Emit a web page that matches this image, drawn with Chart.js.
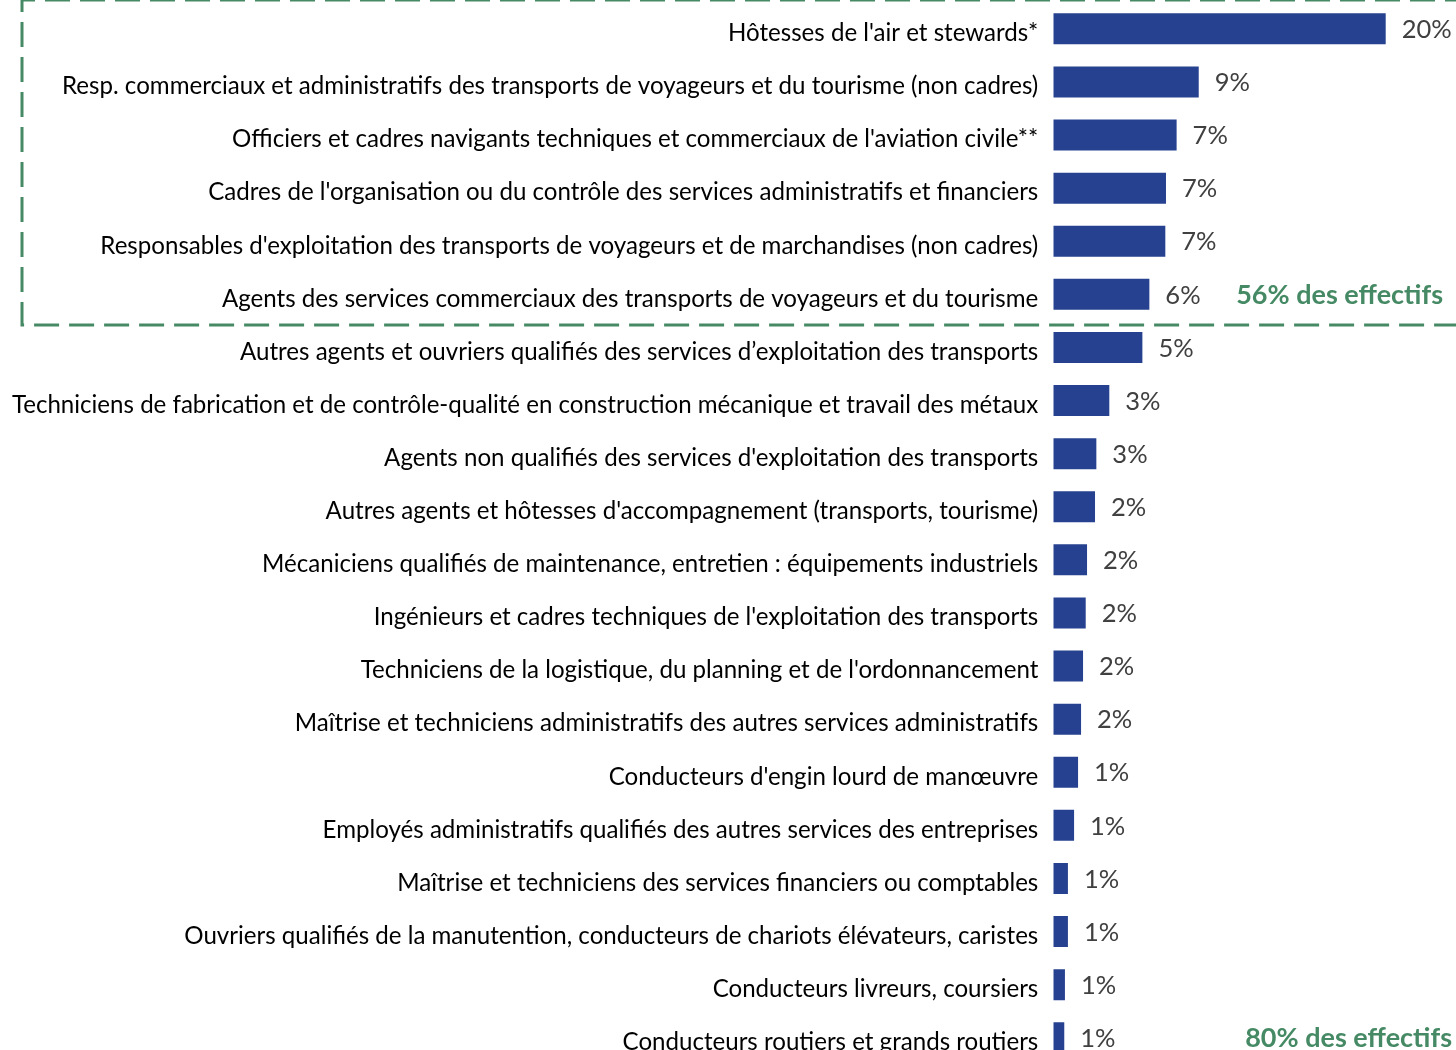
<!DOCTYPE html>
<html lang="fr">
<head>
<meta charset="utf-8">
<title>Métiers</title>
<script src="https://cdn.jsdelivr.net/npm/chart.js@4.4.1/dist/chart.umd.min.js"></script>
<style>
  html, body { margin: 0; padding: 0; background: #fff; overflow: hidden; }
  #wrap { position: relative; width: 1456px; height: 1066px; }
</style>
</head>
<body>
<div id="wrap"><canvas id="chart"></canvas></div>
<script>
const categories = [
  "Hôtesses de l'air et stewards*",
  "Resp. commerciaux et administratifs des transports de voyageurs et du tourisme (non cadres)",
  "Officiers et cadres navigants techniques et commerciaux de l'aviation civile**",
  "Cadres de l'organisation ou du contrôle des services administratifs et financiers",
  "Responsables d'exploitation des transports de voyageurs et de marchandises (non cadres)",
  "Agents des services commerciaux des transports de voyageurs et du tourisme",
  "Autres agents et ouvriers qualifiés des services d’exploitation des transports",
  "Techniciens de fabrication et de contrôle-qualité en construction mécanique et travail des métaux",
  "Agents non qualifiés des services d'exploitation des transports",
  "Autres agents et hôtesses d'accompagnement (transports, tourisme)",
  "Mécaniciens qualifiés de maintenance, entretien : équipements industriels",
  "Ingénieurs et cadres techniques de l'exploitation des transports",
  "Techniciens de la logistique, du planning et de l'ordonnancement",
  "Maîtrise et techniciens administratifs des autres services administratifs",
  "Conducteurs d'engin lourd de manœuvre",
  "Employés administratifs qualifiés des autres services des entreprises",
  "Maîtrise et techniciens des services financiers ou comptables",
  "Ouvriers qualifiés de la manutention, conducteurs de chariots élévateurs, caristes",
  "Conducteurs livreurs, coursiers",
  "Conducteurs routiers et grands routiers"
];
// shares (%)
const shares = [20.0, 8.75, 7.42, 6.78, 6.74, 5.78, 5.36, 3.37, 2.59, 2.51,
                2.03, 1.95, 1.79, 1.67, 1.49, 1.25, 0.88, 0.88, 0.70, 0.66];
const shareLabels = ["20%", "9%", "7%", "7%", "7%", "6%", "5%", "3%", "3%", "2%",
                     "2%", "2%", "2%", "2%", "1%", "1%", "1%", "1%", "1%", "1%"];
const groupNotes = [
  { text: "56% des effectifs", row: 5, right: 1443 },
  { text: "80% des effectifs", row: 19, right: 1452 }
];

const FONT = "Lato";
const BAR = "#26418F";
const GREEN = "#468A65";

// fit category labels to the width they take in the original
const m = document.createElement("canvas").getContext("2d");
m.font = `20px ${FONT}`;
const widest = Math.max(...categories.map(c => m.measureText(c).width));
const labelSize = Math.round(20 * 1026 / widest * 10) / 10;

const valueLabels = {
  id: "valueLabels",
  afterDatasetsDraw(chart) {
    const { ctx } = chart;
    const meta = chart.getDatasetMeta(0);
    ctx.save();
    ctx.font = `25.5px ${FONT}`;
    ctx.fillStyle = "#404040";
    ctx.textAlign = "left";
    ctx.textBaseline = "middle";
    meta.data.forEach((bar, i) => {
      ctx.fillText(shareLabels[i], bar.x + 16, bar.y + 1);
    });
    ctx.restore();
  }
};

const groupBox = {
  id: "groupBox",
  afterDraw(chart) {
    const { ctx, scales: { y } } = chart;
    const bottom = (y.getPixelForValue(5) + y.getPixelForValue(6)) / 2 + 4;
    ctx.save();
    ctx.strokeStyle = GREEN;
    ctx.lineWidth = 3;
    ctx.setLineDash([25, 10]);
    ctx.beginPath();
    ctx.moveTo(1470, 0);
    ctx.lineTo(22, 0);
    ctx.lineTo(22, bottom);
    ctx.lineTo(1470, bottom);
    ctx.stroke();
    ctx.setLineDash([]);
    ctx.font = `bold 27px ${FONT}`;
    ctx.fillStyle = GREEN;
    ctx.textAlign = "right";
    ctx.textBaseline = "middle";
    groupNotes.forEach(n => {
      ctx.fillText(n.text, n.right, y.getPixelForValue(n.row) + 1);
    });
    ctx.restore();
  }
};

new Chart(document.getElementById("chart"), {
  type: "bar",
  data: {
    labels: categories,
    datasets: [{
      data: shares,
      backgroundColor: BAR,
      borderWidth: 0,
      barPercentage: 0.584,
      categoryPercentage: 1
    }]
  },
  options: {
    indexAxis: "y",
    responsive: true,
    maintainAspectRatio: false,
    animation: false,
    layout: { padding: { top: 2.3, bottom: 1.7, left: 0, right: 0 } },
    plugins: { legend: { display: false }, tooltip: { enabled: false } },
    scales: {
      x: { display: false, min: 0, max: 24.23 },
      y: {
        grid: { display: false, drawTicks: false, tickLength: 0 },
        border: { display: false },
        ticks: {
          color: "#000",
          font: { family: FONT, size: labelSize },
          padding: 15,
          labelOffset: 4.5,
          autoSkip: false
        },
        afterFit(scale) {
          scale.width = 1053.3;
          scale.paddingTop = 0;
          scale.paddingBottom = 0;
        }
      }
    }
  },
  plugins: [valueLabels, groupBox]
});
</script>
</body>
</html>
